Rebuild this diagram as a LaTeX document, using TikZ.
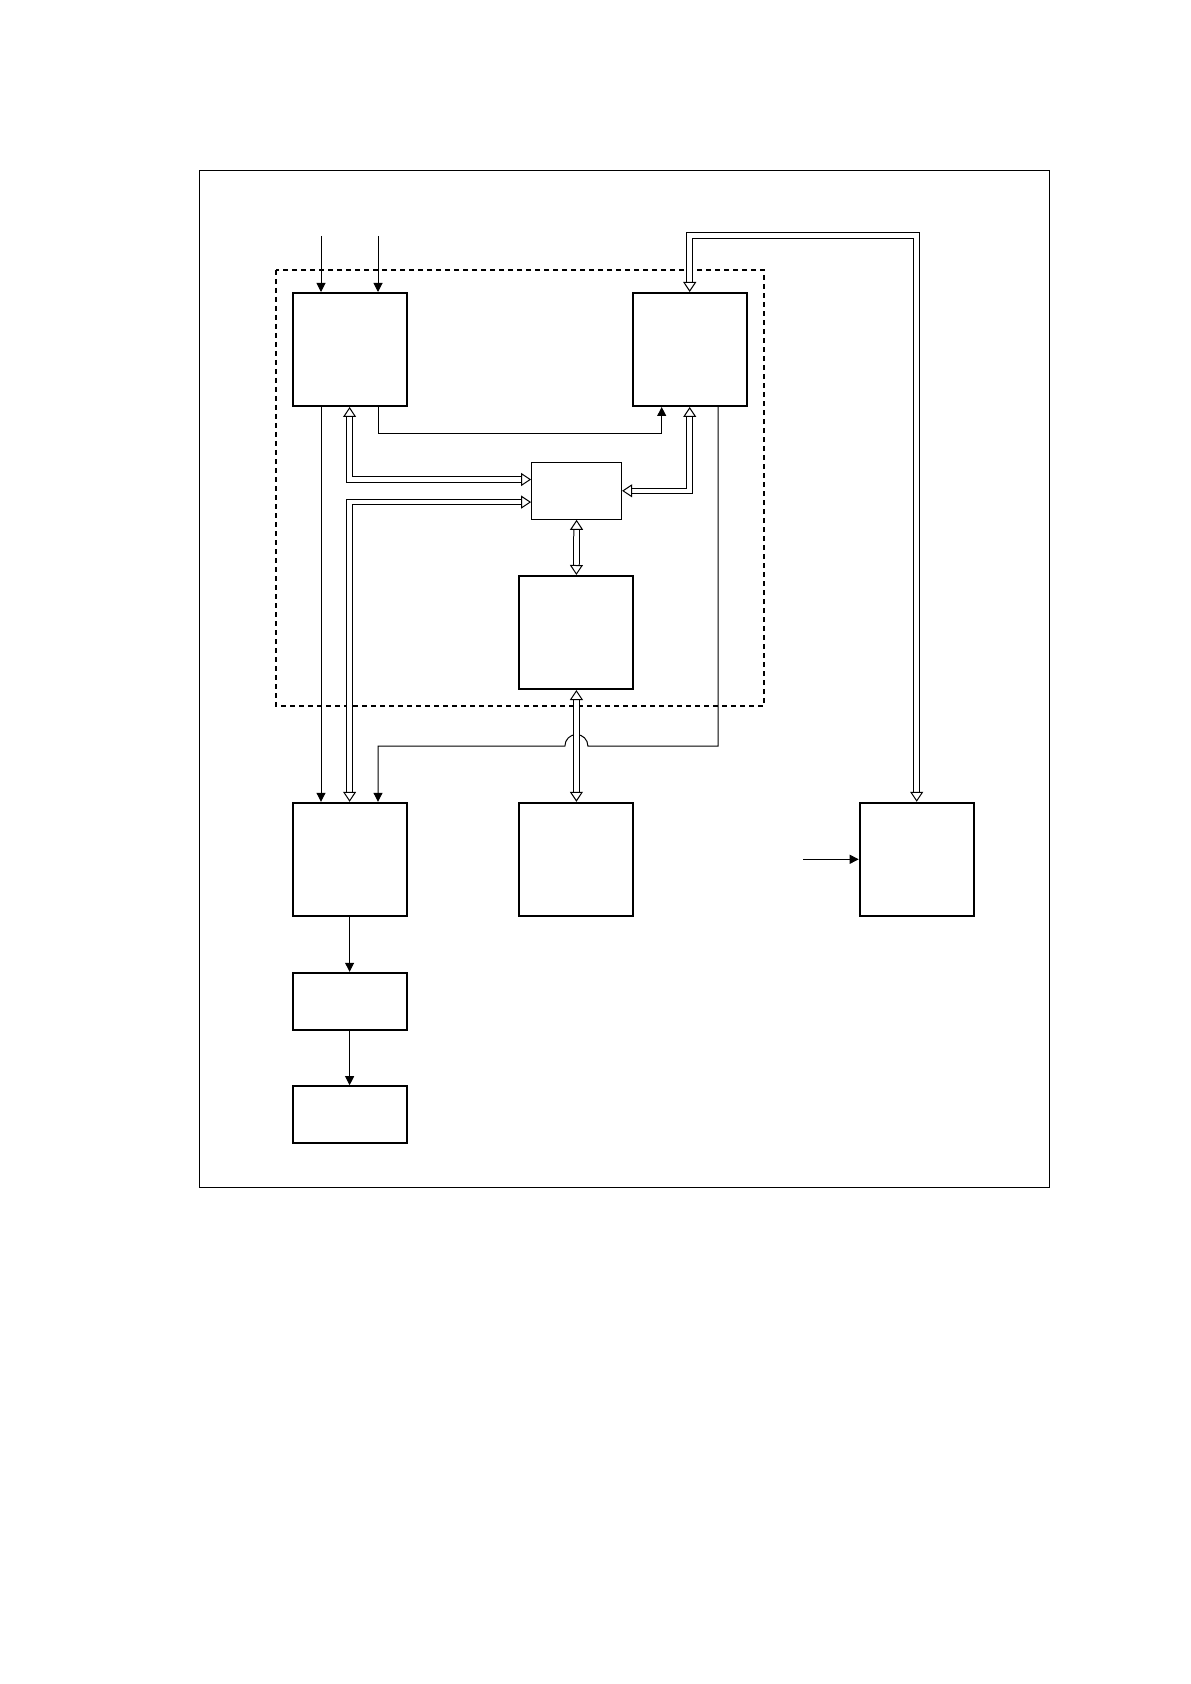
\documentclass[tikz,border=0pt]{standalone}
\usetikzlibrary{arrows.meta}

\begin{document}
\begin{tikzpicture}[x=0.5pt,y=-0.5pt,>={Triangle[length=4.5pt,width=4.5pt]},
  box/.style={draw,line width=1pt,inner sep=0pt,minimum width=57pt,minimum height=56.5pt},
  flat/.style={box,minimum height=28.5pt},
  line/.style={line width=0.5pt},
  bus/.style={line width=0.5pt,double distance=2.3pt,
    {Triangle[open,length=5pt 0 0,width=6.5pt 0 0,line width=0.5pt 0 0]}-{Triangle[open,length=5pt 0 0,width=6.5pt 0 0,line width=0.5pt 0 0]}}]
\useasboundingbox (0,0) rectangle (1190,1684);
\draw[line width=0.6pt] (199.3,170.3) rectangle (1049.3,1187.3);
\draw[line width=1pt,dash pattern=on 2.5pt off 2pt] (276,270) rectangle (764,706);
% blocks
\node[box] (a) at (349.6,349.5) {};
\node[box] (b) at (689.7,349.5) {};
\node[draw,line width=0.5pt,inner sep=0pt,minimum width=45pt,minimum height=28.5pt] (c) at (576.6,490.8) {};
\node[box] (e) at (576.4,632.5) {};
\node[box] (d) at (349.6,859.3) {};
\node[box] (g) at (576.4,859.3) {};
\node[box] (f) at (916.7,859.3) {};
\node[flat] (h) at (349.6,1001.3) {};
\node[flat] (i) at (349.6,1114.7) {};
% single lines
\coordinate (in1) at (321,236);
\coordinate (in2) at (378,236);
\coordinate (in3) at (803,859.3);
\coordinate (t1) at (661.7,434);
\coordinate (t2) at (718,746);
\coordinate (up) at (0,235.7);
\draw[line,->] (in1) -- (in1 |- a.north);
\draw[line,->] (in2) -- (in2 |- a.north);
\draw[line,->] (in1 |- a.south) -- (in1 |- d.north);
\draw[line,->] (in2 |- a.south) |- (t1) -- (t1 |- b.south);
\path (e.south |- t2) coordinate (jmp);
\draw[line,->] (t2 |- b.south) -- (t2) -- ([xshift=5.75pt]jmp)
  arc[start angle=0,end angle=180,radius=5.75pt] -- (in2 |- t2) -- (in2 |- d.north);
\draw[line,->] (in3) -- (f.west);
\draw[line,->] (d.south) -- (h.north);
\draw[line,->] (h.south) -- (i.north);
% buses
\draw[bus] (a.south) |- ([yshift=5.65pt]c.west);
\draw[bus] ([yshift=-5.65pt]c.west) -| (d.north);
\draw[bus] (b.south) |- (c.east);
\draw[bus] (c.south) -- (e.north);
\draw[bus] (e.south) -- (g.north);
\draw[bus] (b.north) |- (f.north |- up) -- (f.north);
\end{tikzpicture}
\end{document}
